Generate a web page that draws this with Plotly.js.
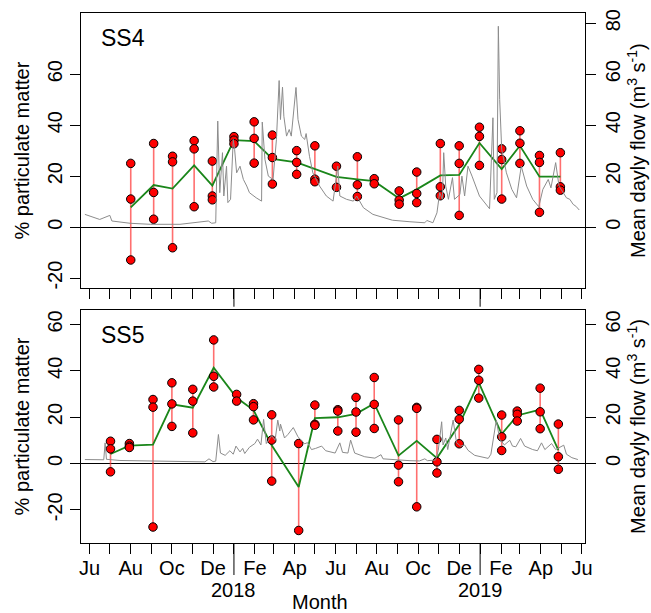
<!DOCTYPE html>
<html><head><meta charset="utf-8">
<script src="https://cdn.plot.ly/plotly-3.0.1.min.js"></script>
<style>html,body{margin:0;padding:0;background:#fff}</style>
</head><body><div id="chart" style="width:651px;height:613px"></div>
<script>
// ---------- DATA ----------
const labelTicks = ['2017-06-01','2017-08-01','2017-10-01','2017-12-01','2018-02-01','2018-04-01','2018-06-01',
  '2018-08-01','2018-10-01','2018-12-01','2019-02-01','2019-04-01','2019-06-01'];
const labelText = ['Ju','Au','Oc','De','Fe','Ap','Ju','Au','Oc','De','Fe','Ap','Ju'];
const minorTicks = ['2017-07-01','2017-09-01','2017-11-01','2018-01-01','2018-03-01','2018-05-01','2018-07-01',
  '2018-09-01','2018-11-01','2019-01-01','2019-03-01','2019-05-01'];
const yearTicks = ['2018-01-01','2019-01-01'];
const yearLabels = ['2018','2019'];
const pctTicks = [-20, 0, 20, 40, 60];
const pctLabels = ['-20', '0', '20', '40', '60'];
const flowTicksTop = [0, 20, 40, 60, 80];
const flowTicksBottom = [0, 20, 40, 60];

// SS4 sampling dates and replicate % particulate matter
const ss4Dates = ['2017-08-01','2017-09-04','2017-10-02','2017-11-03','2017-11-30','2018-01-01','2018-01-31',
  '2018-02-27','2018-04-04','2018-05-01','2018-06-02','2018-07-03','2018-07-28','2018-09-03','2018-09-29',
  '2018-11-03','2018-12-01','2018-12-31','2019-02-02','2019-03-01','2019-03-30','2019-04-30'];
const ss4Rep1 = [25.0,32.8,27.8,33.9,25.9,35.5,41.3,36.1,30.0,31.9,23.9,27.6,19.0,14.2,21.6,32.8,31.9,39.2,30.7,37.8,28.1,29.2];
const ss4Rep2 = [11.0,13.6,25.6,30.7,12.2,34.1,34.8,27.3,25.4,18.8,15.6,16.6,17.0,10.6,13.2,15.8,25.0,35.6,26.5,32.9,25.4,15.8];
const ss4Rep3 = [-12.9,3.1,-8.1,8.0,10.7,32.7,25.1,16.9,20.7,17.8,null,12.0,null,9.0,9.6,12.3,4.6,24.2,11.0,25.0,5.8,14.5];

// SS5 sampling dates and replicate % particulate matter
const ss5Dates = ['2017-07-02','2017-07-30','2017-09-03','2017-10-01','2017-11-01','2017-12-02','2018-01-05',
  '2018-01-30','2018-02-26','2018-04-07','2018-05-01','2018-06-04','2018-07-01','2018-07-28','2018-09-02',
  '2018-09-29','2018-10-29','2018-12-01','2018-12-30','2019-02-02','2019-02-25','2019-03-31','2019-04-27'];
const ss5Rep1 = [9.6,8.6,27.6,34.8,32.0,53.3,29.8,25.8,21.0,8.6,25.2,23.2,28.5,37.1,18.8,24.2,10.4,22.9,40.6,20.9,22.6,32.5,17.0];
const ss5Rep2 = [6.3,7.5,24.3,25.7,26.9,37.6,26.9,24.5,10.1,-28.9,16.9,22.6,22.2,25.5,-0.7,23.8,0.7,19.1,35.9,11.5,21.2,22.3,2.9];
const ss5Rep3 = [-3.6,6.9,-27.4,16.0,13.2,33.0,null,18.8,-7.6,null,16.5,14.0,13.5,15.1,-7.9,-18.7,-4.1,8.5,28.2,5.6,18.3,15.0,-2.5];

// Mean daily flow (m3 s-1) at SS4
const ss4FlowDates = ['2017-05-25','2017-06-16','2017-07-01','2017-07-04','2017-07-31','2017-08-30','2017-10-13',
  '2017-11-24','2017-11-29','2017-12-05','2017-12-08','2017-12-11','2017-12-15','2017-12-17','2017-12-21',
  '2017-12-23','2017-12-27','2017-12-31','2018-01-02','2018-01-05','2018-01-10','2018-01-15','2018-01-20',
  '2018-01-24','2018-02-03','2018-02-11','2018-02-12','2018-02-16','2018-02-21','2018-02-28','2018-03-05',
  '2018-03-09','2018-03-11','2018-03-14','2018-03-16','2018-03-20','2018-03-24','2018-03-27','2018-04-03',
  '2018-04-06','2018-04-11','2018-04-16','2018-04-18','2018-04-23','2018-04-28','2018-05-08','2018-05-18',
  '2018-05-28','2018-06-04','2018-06-07','2018-06-17','2018-06-27','2018-07-02','2018-07-12','2018-07-26',
  '2018-08-05','2018-08-24','2018-09-19','2018-10-11','2018-10-14','2018-10-23','2018-10-29','2018-11-02',
  '2018-11-06','2018-11-08','2018-11-11','2018-11-15','2018-11-21','2018-11-24','2018-12-02','2018-12-05',
  '2018-12-09','2018-12-14','2018-12-20','2018-12-31','2019-01-15','2019-01-20','2019-01-22','2019-01-26',
  '2019-01-28','2019-01-30','2019-02-02','2019-02-09','2019-02-17','2019-02-24','2019-03-03','2019-03-11',
  '2019-03-20','2019-03-29','2019-04-04','2019-04-08','2019-04-12','2019-04-16','2019-04-23','2019-04-28',
  '2019-05-03','2019-05-09','2019-05-14','2019-05-19','2019-05-23','2019-05-28'];
const ss4Flow = [5.0,3.0,4.6,2.4,1.5,1.1,1.1,
  2.4,1.5,1.7,41.6,13.5,29.2,12.2,23.9,
  9.6,10.9,34.4,30.5,21.3,23.9,18.7,16.1,
  13.5,11.5,10.2,41.2,26.5,20.0,18.7,34.4,
  57.5,42.2,54.9,43.5,35.7,38.3,35.7,54.8,
  42.2,35.7,34.4,36.7,27.8,21.3,16.1,12.2,
  10.2,23.9,12.2,10.9,10.2,12.2,7.6,5.0,
  4.3,2.7,2.1,1.7,2.6,1.7,5.6,13.5,
  10.9,29.2,16.1,10.9,19.4,10.9,12.8,20.0,
  12.2,23.9,20.0,12.2,7.2,42.9,10.9,13.5,
  78.8,50.1,30.5,21.3,14.8,11.5,23.9,16.1,
  10.9,8.0,14.8,16.7,18.7,15.4,25.3,16.1,
  14.1,11.5,10.9,8.9,8.2,6.7];

// Mean daily flow (m3 s-1) at SS5
const ss5FlowDates = ['2017-05-25','2017-06-16','2017-06-22','2017-06-24','2017-06-26','2017-07-16','2017-08-30',
  '2017-10-13','2017-11-19','2017-11-25','2017-12-01','2017-12-05','2017-12-09','2017-12-12','2017-12-19',
  '2017-12-26','2017-12-31','2018-01-04','2018-01-10','2018-01-14','2018-01-17','2018-01-24','2018-02-01',
  '2018-02-05','2018-02-10','2018-02-14','2018-02-18','2018-02-26','2018-03-03','2018-03-07','2018-03-10',
  '2018-03-11','2018-03-17','2018-03-22','2018-03-30','2018-04-06','2018-04-16','2018-04-20','2018-04-26',
  '2018-05-02','2018-05-11','2018-05-17','2018-05-23','2018-05-31','2018-06-07','2018-06-11','2018-06-19',
  '2018-06-23','2018-06-29','2018-07-14','2018-07-29','2018-08-07','2018-08-10','2018-08-28','2018-09-19',
  '2018-10-03','2018-10-11','2018-10-15','2018-10-27','2018-10-31','2018-11-02','2018-11-05','2018-11-07',
  '2018-11-11','2018-11-14','2018-11-22','2018-11-27','2018-12-03','2018-12-09','2018-12-14','2018-12-24',
  '2019-01-02','2019-01-13','2019-01-17','2019-01-20','2019-01-25','2019-01-30','2019-02-06','2019-02-14',
  '2019-02-18','2019-02-23','2019-03-02','2019-03-08','2019-03-20','2019-03-27','2019-04-02','2019-04-07',
  '2019-04-17','2019-04-23','2019-05-05','2019-05-09','2019-05-17','2019-05-26'];
const ss5Flow = [1.7,1.5,1.6,8.9,1.8,1.3,1.0,
  0.8,0.7,2.0,0.8,1.0,12.5,4.5,3.5,
  5.5,4.0,7.5,5.0,6.5,4.3,7.0,8.6,
  10.5,8.0,19.0,8.6,12.0,10.0,18.7,14.0,
  17.0,11.0,12.5,15.5,11.5,8.5,9.0,6.0,
  6.5,7.5,5.5,5.0,4.5,8.9,4.8,4.5,
  10.1,4.5,2.9,2.3,3.8,2.0,1.5,1.2,
  1.1,2.0,1.2,1.5,5.7,10.0,18.0,8.0,
  11.0,6.0,18.7,9.0,7.5,8.0,5.7,3.5,
  2.9,2.2,4.0,10.1,18.7,10.5,8.0,10.0,
  7.5,7.2,10.8,7.5,6.0,5.5,8.9,6.0,
  8.6,6.0,7.9,4.0,2.5,1.7];

// ---------- BUILD ----------
const FONT = 'Liberation Sans, Arial, Helvetica, sans-serif';
const X_RANGE = ['2017-05-19 06:00', '2019-06-05 12:00'];

function panel(dates, reps, xa, ya) {
  const segX = [], segY = [], ptX = [], ptY = [], meanY = [];
  dates.forEach((d, i) => {
    const vals = reps.map(r => r[i]).filter(v => v !== null && v !== undefined);
    segX.push(d, d, null);
    segY.push(Math.min(...vals), Math.max(...vals), null);
    vals.forEach(v => { ptX.push(d); ptY.push(v); });
    meanY.push(vals.reduce((a, b) => a + b, 0) / vals.length);
  });
  return [
    {x: segX, y: segY, xaxis: xa, yaxis: ya, mode: 'lines', type: 'scatter',
     line: {color: 'rgba(255,50,50,0.7)', width: 1.6}, hoverinfo: 'skip', showlegend: false},
    {x: dates, y: meanY, xaxis: xa, yaxis: ya, mode: 'lines', type: 'scatter',
     line: {color: '#1a861a', width: 1.8}, showlegend: false},
    {x: ptX, y: ptY, xaxis: xa, yaxis: ya, mode: 'markers', type: 'scatter',
     marker: {color: '#ff0000', size: 8.5, line: {color: '#000', width: 1}}, showlegend: false}
  ];
}

const traces = [
  {x: ss4FlowDates, y: ss4Flow, xaxis: 'x', yaxis: 'y2', mode: 'lines', type: 'scatter',
   line: {color: '#8c8c8c', width: 1}, showlegend: false},
  ...panel(ss4Dates, [ss4Rep1, ss4Rep2, ss4Rep3], 'x', 'y'),
  {x: ss5FlowDates, y: ss5Flow, xaxis: 'x2', yaxis: 'y4', mode: 'lines', type: 'scatter',
   line: {color: '#8c8c8c', width: 1}, showlegend: false},
  ...panel(ss5Dates, [ss5Rep1, ss5Rep2, ss5Rep3], 'x2', 'y3')
];

const tickFont = {family: FONT, size: 20, color: '#000'};
function xAxis(anchor, labels) {
  const ax = {type: 'date', range: X_RANGE, anchor: anchor, domain: [0, 1],
    tickmode: 'array', tickvals: labelTicks, ticktext: labelText, showticklabels: labels,
    ticks: 'outside', ticklen: 10, tickwidth: 1, tickcolor: '#000', tickfont: tickFont,
    minor: {tickmode: 'array', tickvals: minorTicks, ticks: 'outside', ticklen: 10, tickwidth: 1, tickcolor: '#000', showgrid: false},
    showline: true, mirror: true, linecolor: '#000', linewidth: 1,
    showgrid: false, zeroline: false, fixedrange: true};
  if (labels) ax.ticklabelstandoff = -3;
  return ax;
}
function yLeft(domain, range, anchor) {
  return {domain: domain, range: range, anchor: anchor,
    tickmode: 'array', tickvals: pctTicks, ticktext: pctLabels, tickangle: -90, tickfont: tickFont,
    ticks: 'outside', ticklen: 10, tickcolor: '#000',
    showline: true, mirror: true, linecolor: '#000', linewidth: 1,
    showgrid: false, zeroline: true, zerolinecolor: '#000', zerolinewidth: 1,
    title: {text: '% particulate matter', font: {family: FONT, size: 20, color: '#000'}, standoff: 8}};
}
function yRight(over, anchor, range, vals) {
  return {overlaying: over, side: 'right', anchor: anchor, range: range,
    tickmode: 'array', tickvals: vals, tickangle: -90, tickfont: tickFont,
    ticks: 'outside', ticklen: 10, tickcolor: '#000',
    showline: false, showgrid: false, zeroline: false,
    title: {text: 'Mean dayly flow (m<sup>3</sup> s<sup>-1</sup>)', font: {family: FONT, size: 20, color: '#000'}, standoff: 2}};
}

const TOP = [0.4806, 1], BOT = [0, 0.4396];
const RTOP = [-24, 84], RBOT = [-34.3, 66.2];

const shapes = [];
yearTicks.forEach(d => {
  shapes.push({type: 'line', xref: 'x', yref: 'paper', x0: d, x1: d, y0: 0.4806, y1: 0.4458, line: {color: '#000', width: 1}});
  shapes.push({type: 'line', xref: 'x2', yref: 'paper', x0: d, x1: d, y0: 0, y1: -0.0604, line: {color: '#000', width: 1}});
});

const annFont = {family: FONT, size: 20, color: '#000'};
const annotations = [
  {text: 'SS4', xref: 'paper', yref: 'paper', x: 0.0357, y: 0.952, xanchor: 'left', yanchor: 'middle', showarrow: false, font: {family: FONT, size: 23, color: '#000'}},
  {text: 'SS5', xref: 'paper', yref: 'paper', x: 0.0357, y: 0.3917, xanchor: 'left', yanchor: 'middle', showarrow: false, font: {family: FONT, size: 23, color: '#000'}},
  {text: 'Month', xref: 'paper', yref: 'paper', x: 0.474, y: -0.1115, xanchor: 'center', yanchor: 'middle', showarrow: false, font: annFont}
];
yearTicks.forEach((d, i) => annotations.push({text: yearLabels[i], xref: 'x2', yref: 'paper', x: d, y: -0.0896,
  xanchor: 'center', yanchor: 'middle', showarrow: false, font: annFont}));

const layout = {
  width: 651, height: 613,
  margin: {l: 81, r: 66, t: 13, b: 70, pad: 0},
  paper_bgcolor: '#fff', plot_bgcolor: '#fff',
  font: {family: FONT, size: 20, color: '#000'},
  showlegend: false,
  xaxis: xAxis('y', false),
  xaxis2: xAxis('y3', true),
  yaxis: yLeft(TOP, RTOP, 'x'),
  yaxis2: yRight('y', 'x', RTOP, flowTicksTop),
  yaxis3: yLeft(BOT, RBOT, 'x2'),
  yaxis4: yRight('y3', 'x2', RBOT, flowTicksBottom),
  shapes: shapes,
  annotations: annotations
};

Plotly.newPlot('chart', traces, layout, {displayModeBar: false, staticPlot: true});
</script></body></html>
